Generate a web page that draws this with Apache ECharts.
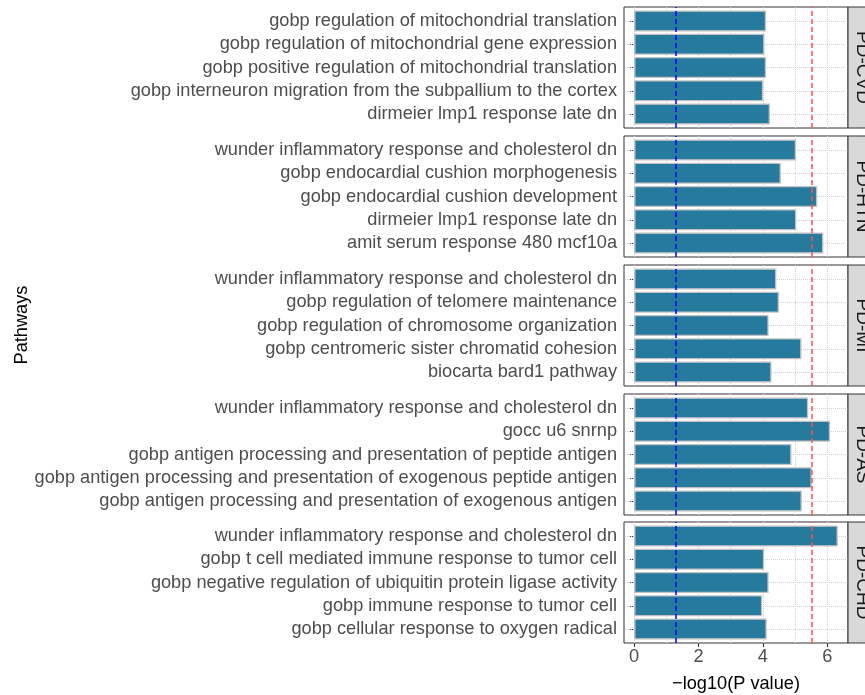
<!DOCTYPE html>
<html><head><meta charset="utf-8">
<script src="https://cdn.jsdelivr.net/npm/echarts@6/dist/echarts.min.js"></script>
<style>html,body{margin:0;padding:0;background:#fff}#c{width:865px;height:695px}</style>
</head><body><div id="c"></div>
<script>
// ---------- data ----------
const panelNames = ['PD-CVD', 'PD-HTN', 'PD-MI', 'PD-AS', 'PD-CHD'];

const cvdPathways = ['gobp regulation of mitochondrial translation', 'gobp regulation of mitochondrial gene expression', 'gobp positive regulation of mitochondrial translation', 'gobp interneuron migration from the subpallium to the cortex', 'dirmeier lmp1 response late dn'];
const cvdValues = [4.10, 4.05, 4.10, 4.01, 4.22];

const htnPathways = ['wunder inflammatory response and cholesterol dn', 'gobp endocardial cushion morphogenesis', 'gobp endocardial cushion development', 'dirmeier lmp1 response late dn', 'amit serum response 480 mcf10a'];
const htnValues = [5.03, 4.56, 5.69, 5.04, 5.88];

const miPathways = ['wunder inflammatory response and cholesterol dn', 'gobp regulation of telomere maintenance', 'gobp regulation of chromosome organization', 'gobp centromeric sister chromatid cohesion', 'biocarta bard1 pathway'];
const miValues = [4.42, 4.50, 4.18, 5.20, 4.27];

const asPathways = ['wunder inflammatory response and cholesterol dn', 'gocc u6 snrnp', 'gobp antigen processing and presentation of peptide antigen', 'gobp antigen processing and presentation of exogenous peptide antigen', 'gobp antigen processing and presentation of exogenous antigen'];
const asValues = [5.41, 6.09, 4.89, 5.52, 5.21];

const chdPathways = ['wunder inflammatory response and cholesterol dn', 'gobp t cell mediated immune response to tumor cell', 'gobp negative regulation of ubiquitin protein ligase activity', 'gobp immune response to tumor cell', 'gobp cellular response to oxygen radical'];
const chdValues = [6.33, 4.04, 4.18, 3.98, 4.12];

const xMajorTicks = [0, 2, 4, 6];
const xMinorTicks = [1, 3, 5];
const nominalThreshold = 1.301;   // -log10(0.05)
const strictThreshold = 5.52;

// ---------- layout ----------
const pathwaysList = [cvdPathways, htnPathways, miPathways, asPathways, chdPathways];
const valuesList = [cvdValues, htnValues, miValues, asValues, chdValues];
const allVals = [].concat(...valuesList);
const maxVal = Math.max(...allVals);
const xMin = -0.05 * maxVal, xMax = 1.05 * maxVal;

const FONT = 'Liberation Sans, Arial, Helvetica, sans-serif';
const panelLeft = 624, panelWidth = 224;
const panelTops = [7, 136, 265, 394, 522];
const panelH = 121;

const grids = [], xAxes = [], yAxes = [], series = [], graphics = [];

panelNames.forEach((name, i) => {
  const top = panelTops[i];
  const band = panelH / 5.2;
  grids.push({left: panelLeft, top: top, width: panelWidth, height: panelH,
    show: true, borderColor: '#333', borderWidth: 1, backgroundColor: 'transparent'});
  grids.push({left: panelLeft, top: top + 0.1 * band, width: panelWidth, height: 5 * band, show: false});

  const last = i === panelNames.length - 1;
  xAxes.push({
    gridIndex: 2 * i, type: 'value', min: xMin, max: xMax,
    axisLine: {show: false},
    axisTick: {show: last, customValues: xMajorTicks, length: 4, lineStyle: {color: '#333'}},
    axisLabel: {show: last, customValues: xMajorTicks, fontSize: 18.2, color: '#4d4d4d', margin: 5, fontFamily: FONT},
    splitLine: {show: true, lineStyle: {type: 'dotted', color: '#cfcfcf', width: 1}},
    name: last ? '\u2212log10(P value)' : '', nameLocation: 'middle', nameGap: 32,
    nameTextStyle: {fontSize: 18.2, color: '#000', fontFamily: FONT}
  });
  xAxes.push({
    gridIndex: 2 * i, type: 'value', min: xMin, max: xMax,
    axisLine: {show: false},
    axisTick: {show: false, customValues: xMinorTicks},
    axisLabel: {show: false, customValues: xMinorTicks},
    splitLine: {show: true, lineStyle: {type: 'dotted', color: '#cfcfcf', width: 1}}
  });
  xAxes.push({gridIndex: 2 * i + 1, type: 'value', min: xMin, max: xMax, show: false});

  yAxes.push({gridIndex: 2 * i, type: 'value', min: 0, max: 1, show: false});
  yAxes.push({
    gridIndex: 2 * i + 1, type: 'category', data: pathwaysList[i], inverse: true,
    axisLine: {show: false},
    axisTick: {show: true, alignWithLabel: true, interval: 0, length: 4, lineStyle: {color: '#333'}},
    axisLabel: {interval: 0, fontSize: 18.2, color: '#4d4d4d', margin: 7, fontFamily: FONT},
    splitLine: {show: false}
  });
  yAxes.push({
    gridIndex: 2 * i + 1, type: 'category', data: pathwaysList[i], inverse: true,
    axisLine: {show: false},
    axisLabel: {show: false, interval: 0},
    axisTick: {show: true, inside: true, alignWithLabel: true, interval: 0, length: panelWidth,
      lineStyle: {type: 'dotted', color: '#cfcfcf', width: 1}},
    splitLine: {show: false}
  });

  series.push({
    type: 'bar', xAxisIndex: 3 * i + 2, yAxisIndex: 3 * i + 1,
    data: valuesList[i], barWidth: '90%', silent: true,
    itemStyle: {color: '#267a9e', borderColor: '#c2c2c2', borderWidth: 1.3}
  });
  series.push({
    type: 'line', xAxisIndex: 3 * i, yAxisIndex: 3 * i, data: [], z: 5, silent: true,
    markLine: {
      symbol: ['none', 'none'], silent: true, animation: false,
      label: {show: false},
      data: [
        {xAxis: nominalThreshold, lineStyle: {color: '#0000ff', type: [5, 3], width: 1.5}},
        {xAxis: strictThreshold, lineStyle: {color: '#ff5050', type: [5, 3], width: 1.5}}
      ]
    }
  });

  graphics.push({type: 'rect', shape: {x: panelLeft + panelWidth, y: top, width: 30, height: panelH},
    style: {fill: '#d9d9d9', stroke: '#333', lineWidth: 1}, z: 10});
  graphics.push({type: 'text', x: 862, y: top + panelH / 2, rotation: -Math.PI / 2, z: 11,
    style: {text: name, fill: '#1a1a1a', font: '19px ' + FONT,
      textAlign: 'center', textVerticalAlign: 'middle', align: 'center', verticalAlign: 'middle'}});
});

graphics.push({type: 'text', x: 22, y: 325, rotation: Math.PI / 2, z: 11,
  style: {text: 'Pathways', fill: '#000', font: '18.2px ' + FONT,
    textAlign: 'center', textVerticalAlign: 'middle', align: 'center', verticalAlign: 'middle'}});

const chart = echarts.init(document.getElementById('c'), null, {renderer: 'canvas'});
chart.setOption({
  animation: false,
  backgroundColor: '#fff',
  textStyle: {fontFamily: FONT},
  grid: grids, xAxis: xAxes, yAxis: yAxes, series: series, graphic: graphics
});
</script></body></html>
